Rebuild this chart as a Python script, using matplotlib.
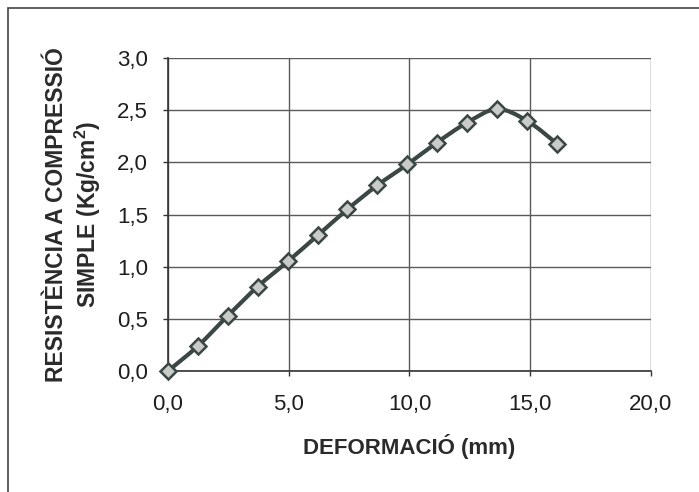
import numpy as np
import matplotlib
matplotlib.use("Agg")
import matplotlib.pyplot as plt
from matplotlib.path import Path
from matplotlib.patches import PathPatch, Rectangle
from matplotlib.ticker import FuncFormatter, MultipleLocator

plt.rcParams['font.family'] = ['Liberation Sans', 'DejaVu Sans']

# deformació (mm) i resistència (Kg/cm2)
deformacio = [0.0, 1.24, 2.48, 3.72, 4.96, 6.20, 7.43, 8.67, 9.91, 11.14, 12.38, 13.62, 14.86, 16.10]
resistencia = [0.0, 0.24, 0.53, 0.81, 1.05, 1.30, 1.55, 1.78, 1.98, 2.19, 2.38, 2.51, 2.40, 2.18]

line_col = '#3b4744'
grid_col = '#5a5a5a'

fig = plt.figure(figsize=(6.99, 4.92), dpi=100)
ax = fig.add_axes([0.2403, 0.2459, 0.6910, 0.6362])

# corba suavitzada (Catmull-Rom -> Bezier) entre els punts
pts = np.column_stack([deformacio, resistencia])
verts = [pts[0]]
codes = [Path.MOVETO]
n = len(pts)
for i in range(n - 1):
    p0 = pts[max(i - 1, 0)]
    p1 = pts[i]
    p2 = pts[i + 1]
    p3 = pts[min(i + 2, n - 1)]
    c1 = p1 + (p2 - p0) / 6.0
    c2 = p2 - (p3 - p1) / 6.0
    verts += [c1, c2, p2]
    codes += [Path.CURVE4] * 3
ax.add_patch(PathPatch(Path(verts, codes), facecolor='none', edgecolor=line_col,
                       lw=3.0, capstyle='round', joinstyle='round', zorder=3, clip_on=False))

ax.plot(deformacio, resistencia, linestyle='none', marker='D', markersize=8.5,
        markerfacecolor='#c9cbc9', markeredgecolor=line_col, markeredgewidth=1.8,
        zorder=4, clip_on=False)

ax.set_xlim(0, 20)
ax.set_ylim(0, 3.0)
ax.xaxis.set_major_locator(MultipleLocator(5))
ax.yaxis.set_major_locator(MultipleLocator(0.5))
fmt = FuncFormatter(lambda v, p: f"{v:.1f}".replace('.', ','))
ax.xaxis.set_major_formatter(fmt)
ax.yaxis.set_major_formatter(fmt)

ax.grid(True, color=grid_col, lw=1.0)
ax.set_axisbelow(True)
for s in ['top', 'right']:
    ax.spines[s].set_visible(False)
for s in ['left', 'bottom']:
    ax.spines[s].set_color('#333333')
    ax.spines[s].set_linewidth(1.2)

ax.tick_params(axis='both', direction='out', length=3.5, width=1.0, color='#333333',
               labelsize=16, labelcolor='#1e1e1e')
ax.tick_params(axis='x', pad=13)
ax.tick_params(axis='y', pad=11)

ax.set_xlabel('DEFORMACIÓ (mm)', fontsize=16, fontweight='bold', color='#2a2a2a', labelpad=14)
ax.set_ylabel('RESISTÈNCIA A COMPRESSIÓ\nSIMPLE (Kg/cm$^\\mathregular{2}$)', fontsize=16.5,
              fontweight='bold', color='#2a2a2a', labelpad=10, linespacing=1.2)

# marc exterior del gràfic
fig.patches.append(Rectangle((8 / 699, -0.05), 1.1, 1 - 8 / 492 + 0.05, transform=fig.transFigure,
                             fill=False, edgecolor='#444444', lw=1.2))

fig.savefig('out.png', dpi=100)
